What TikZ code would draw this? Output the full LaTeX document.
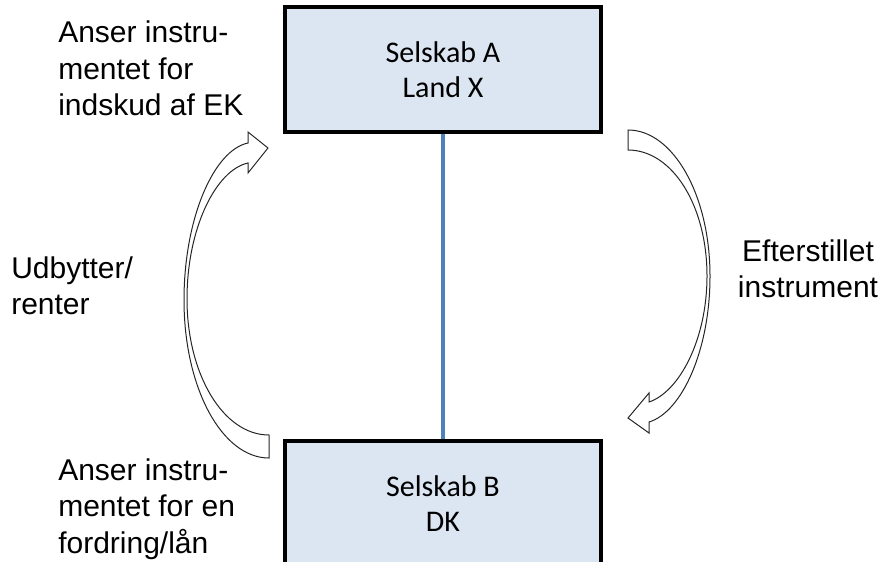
\documentclass[tikz,border=0pt]{standalone}
\usepackage{fontspec}
\setmainfont{Liberation Sans}
\newfontfamily\boxfont{Carlito}
\usetikzlibrary{positioning}
\definecolor{boxfill}{HTML}{DCE6F2}
\definecolor{linkblue}{HTML}{4F81BD}

\begin{document}
\begin{tikzpicture}[x=0.75pt, y=-0.75pt,
    company/.style={rectangle, draw=black, line width=3pt, fill=boxfill,
        minimum width=237pt, minimum height=93.75pt, inner sep=0pt,
        align=center, font=\boxfont\fontsize{22.5}{26.3}\selectfont},
    note/.style={inner sep=0pt, font=\fontsize{22.5}{27.5}\selectfont},
    bentarrow/.style={draw=black!85, line width=0.75pt, fill=white, line join=miter}]
    \clip (0,0) rectangle (884,561);

    % Define nodes
    \node[company] (A) at (443,69.5) {Selskab A\\Land X};
    \node[company] (B) at (443,503.5) {Selskab B\\DK};

    % Link between the two companies
    \draw[linkblue, line width=3pt] (A) -- (B);

    % Curved block arrow on the left, pointing up
    \draw[bentarrow] (269,458) .. controls (222,458) and (184,388) .. (184,300)
        .. controls (184,218) and (214,150) .. (248,143)
        -- (248,132) -- (268,148) -- (248,173) -- (248,163)
        .. controls (216,170) and (187,228) .. (187,299)
        .. controls (187,374) and (223,435) .. (269,435) -- cycle;

    % Curved block arrow on the right, pointing down
    \draw[bentarrow] (628,130) .. controls (673,130) and (710,195) .. (710,276)
        .. controls (710,350) and (682,412) .. (649,422)
        -- (649,433) -- (628,418) -- (649,393) -- (649,402)
        .. controls (679,392) and (707,340) .. (707,276)
        .. controls (707,205) and (672,150) .. (628,150) -- cycle;

    % Labels
    \node[note, anchor=north west, align=left] (viewA) at (58,20.5) {Anser instru-\\mentet for\\indskud af EK};
    \node[note, anchor=north west, align=left] (flowback) at (11,256) {Udbytter/\\renter};
    \node[note, anchor=north, align=center] (subord) at (808,239) {Efterstillet\\instrument};
    \node[note, anchor=north west, align=left] (viewB) at (58,458) {Anser instru-\\mentet for en\\fordring/lån};
\end{tikzpicture}
\end{document}
